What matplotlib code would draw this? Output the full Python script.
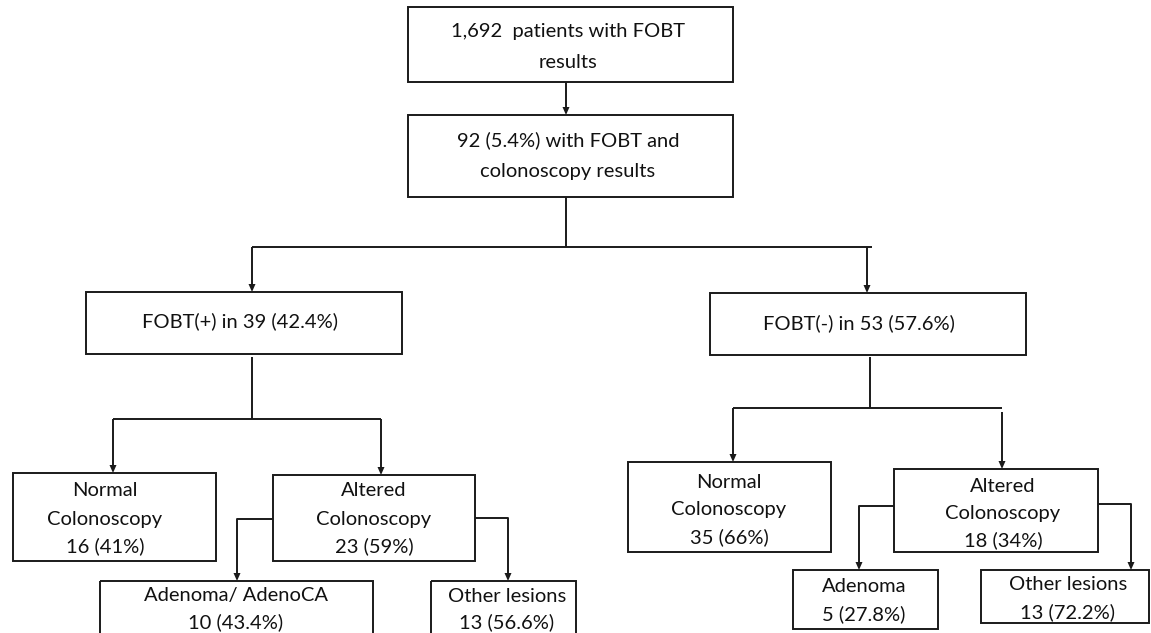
import matplotlib
matplotlib.use("Agg")
import matplotlib.pyplot as plt
from matplotlib.patches import Rectangle

# ---- data: node labels ----
top_label = ["1,692  patients with FOBT", "results"]
second_label = ["92 (5.4%) with FOBT and", "colonoscopy results"]
pos_label = ["FOBT(+) in 39 (42.4%)"]
neg_label = ["FOBT(-) in 53 (57.6%)"]
pos_normal = ["Normal", "Colonoscopy", "16 (41%)"]
pos_altered = ["Altered", "Colonoscopy", "23 (59%)"]
pos_adenoma = ["Adenoma/ AdenoCA", "10 (43.4%)"]
pos_other = ["Other lesions", "13 (56.6%)"]
neg_normal = ["Normal", "Colonoscopy", "35 (66%)"]
neg_altered = ["Altered", "Colonoscopy", "18 (34%)"]
neg_adenoma = ["Adenoma", "5 (27.8%)"]
neg_other = ["Other lesions", "13 (72.2%)"]

# ---- layout (pixel coordinates) ----
W, H = 1151, 633
fig = plt.figure(figsize=(W / 100, H / 100), dpi=100)
ax = fig.add_axes([0, 0, 1, 1])
ax.set_xlim(0, W)
ax.set_ylim(H, 0)
ax.axis("off")

FONT = "Lato"
FS = 14.5
LC = "#1a1a1a"
LW = 1.4

# (x0, y0, x1, y1), text centre x, text line ys
nodes = [
    (top_label, (408, 7, 733, 82), 568, [32, 62]),
    (second_label, (408, 115, 733, 197), 568, [140, 171]),
    (pos_label, (86, 292, 402, 354), 240, [321]),
    (neg_label, (710, 293, 1026, 355), 859, [323]),
    (pos_normal, (13, 473, 216, 561), 105, [491, 519, 546]),
    (pos_altered, (273, 475, 475, 561), 374, [490, 519, 546]),
    (pos_adenoma, (100, 581, 373, 660), 236, [596, 622]),
    (pos_other, (431, 581, 576, 660), 507, [596, 622]),
    (neg_normal, (628, 462, 831, 552), 729, [483, 510, 537]),
    (neg_altered, (894, 469, 1098, 552), 1003, [486, 514, 540]),
    (neg_adenoma, (793, 570, 938, 629), 864, [587, 614]),
    (neg_other, (981, 570, 1149, 623), 1068, [585, 612]),
]

for labels, (x0, y0, x1, y1), cx, ys in nodes:
    ax.add_patch(Rectangle((x0, y0), x1 - x0, y1 - y0, fill=False,
                           edgecolor=LC, linewidth=LW, clip_on=True))
    for t, y in zip(labels, ys):
        ax.text(cx, y, t, ha="center", va="center", fontsize=FS,
                family=FONT, color="#111111")

def line(pts):
    xs = [p[0] for p in pts]
    ys = [p[1] for p in pts]
    ax.plot(xs, ys, color=LC, lw=LW, solid_capstyle="butt")

def arrow(pts):
    line(pts[:-1] + [(pts[-1][0], pts[-1][1] - 7)])
    x, y = pts[-1]
    ax.fill([x - 3.5, x + 3.5, x], [y - 8, y - 8, y], color=LC, lw=0)

arrow([(566, 82), (566, 115)])
line([(566, 197), (566, 247)])
line([(252, 247), (872, 247)])
arrow([(252, 247), (252, 292)])
arrow([(867, 247), (867, 293)])

line([(252, 357), (252, 419)])
line([(113, 419), (381, 419)])
arrow([(113, 419), (113, 473)])
arrow([(381, 419), (381, 475)])

line([(870, 357), (870, 408)])
line([(733, 408), (1002, 408)])
arrow([(733, 408), (733, 462)])
arrow([(1002, 412), (1002, 469)])

arrow([(273, 519), (237, 519), (237, 581)])
arrow([(475, 518), (508, 518), (508, 581)])
arrow([(894, 506), (859, 506), (859, 570)])
arrow([(1098, 504), (1131, 504), (1131, 570)])

fig.savefig("out.png", dpi=100, facecolor="white")
